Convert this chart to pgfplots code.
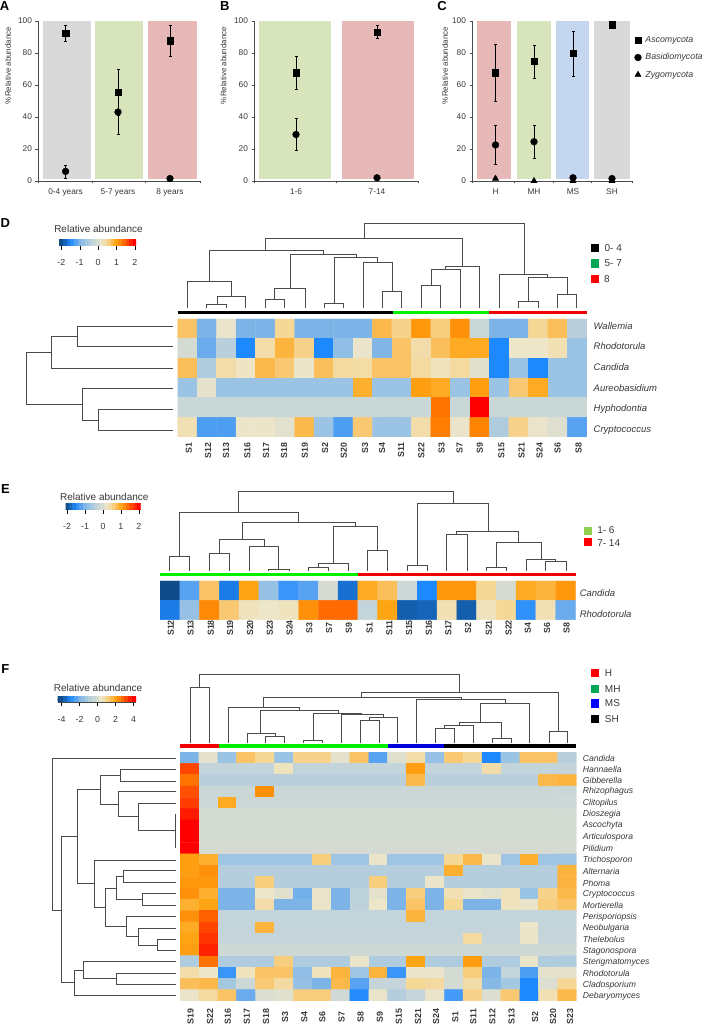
\documentclass[border=0pt]{standalone}
\usepackage{pgfplots}
\pgfplotsset{compat=1.18}
\usepackage{fontspec}
\setmainfont{Liberation Sans}
\definecolor{bgray}{RGB}{217,217,217}
\definecolor{bgreen}{RGB}{216,228,188}
\definecolor{bred}{RGB}{230,184,183}
\definecolor{bblue}{RGB}{197,215,238}
\definecolor{txt}{RGB}{55,55,55}
\definecolor{dend}{RGB}{75,75,75}
\definecolor{lgreen}{RGB}{0,166,81}
\definecolor{egreen}{RGB}{146,208,80}
\pgfplotsset{
 colormap={hm}{rgb255(0cm)=(15,76,138) rgb255(0.5cm)=(30,136,255) rgb255(1cm)=(125,180,232) rgb255(1.4cm)=(165,200,225) rgb255(1.7cm)=(195,212,218) rgb255(2cm)=(214,220,210) rgb255(2.25cm)=(238,230,200) rgb255(2.5cm)=(245,215,150) rgb255(2.75cm)=(250,190,90) rgb255(3cm)=(255,165,20) rgb255(3.3cm)=(255,125,0) rgb255(3.6cm)=(255,70,0) rgb255(4cm)=(255,0,0)},
 panel/.style={scale only axis, clip=false, height=160.3pt, ymin=0, ymax=100, ytick={0,20,40,60,80,100},
   axis x line*=bottom, axis y line*=left, axis line style={-,draw=black!70}, tick style={draw=black!70},
   tick align=outside, major tick length=2.5pt, xticklabels={},
   tick label style={font=\fontsize{8.3}{10}\selectfont, text=txt},
   x tick label style={yshift=-1.5pt},
   /pgf/number format/assume math mode=true,
   ylabel={\%Relative abundance}, ylabel style={font=\fontsize{7.9}{9}\selectfont, text=txt, at={(axis description cs:-0.185,0.72)}, anchor=center},
   extra x tick style={tick style={draw=none}},
   anchor=south west},
 band/.style={draw=none, fill=#1, forget plot},
 mk/.style={only marks, black, mark options={solid, fill=black},
   error bars/y dir=both, error bars/y explicit, error bars/error bar style={black, line width=0.5pt}, error bars/error mark options={rotate=90, mark size=1.5pt, black}},
 ov/.style={scale only axis, hide axis, clip=false, width=705pt, xmin=0, xmax=1568, ymin=0, y dir=reverse, anchor=north west, enlargelimits=false, unbounded coords=jump},
 dn/.style={dend, line width=0.95pt, mark=none},
 hmap/.style={scale only axis, hide axis, anchor=north west, y dir=reverse, enlargelimits=false, xmin=-0.5, xmax=20.5, colormap name=hm, point meta min=-2, point meta max=2},
 kaxis/.style={scale only axis, anchor=north west, axis x line*=bottom, axis y line=none, ymin=0, ymax=1, enlargelimits=false, colormap name=hm, point meta min=-2, point meta max=2, xtick={-2,-1,0,1,2}, tick align=outside, major tick length=4.5pt, tick style={draw=black}, axis line style={-,draw=black!70}, tick label style={font=\fontsize{8.8}{10}\selectfont, text=txt}, xticklabel shift=6pt},
 bar/.style={line width=3.4pt, mark=none, #1}
}
\def\keyc{(-2.4,0)(-2.2,0)(-2,0)(-1.8,0)(-1.6,0)(-1.4,0)(-1.2,0)(-1,0)(-0.8,0)(-0.6,0)(-0.4,0)(-0.2,0)(0,0)(0.2,0)(0.4,0)(0.6,0)(0.8,0)(1,0)(1.2,0)(1.4,0)(1.6,0)(1.8,0)(2,0)(2.2,0)(2.4,0)
(-2.4,1)(-2.2,1)(-2,1)(-1.8,1)(-1.6,1)(-1.4,1)(-1.2,1)(-1,1)(-0.8,1)(-0.6,1)(-0.4,1)(-0.2,1)(0,1)(0.2,1)(0.4,1)(0.6,1)(0.8,1)(1,1)(1.2,1)(1.4,1)(1.6,1)(1.8,1)(2,1)(2.2,1)(2.4,1)}
\newcommand\keyplot{\addplot[matrix plot*, draw=none, mesh/cols=25, point meta=x] coordinates {\keyc};}
\newcommand\rl[3]{\node[anchor=west, font=\fontsize{#3}{10}\selectfont\itshape, text=txt, inner sep=0pt] at (axis cs:#1){#2};}
\newcommand\tl[3]{\node[anchor=center, font=\fontsize{#3}{10}\selectfont, text=txt, inner sep=0pt] at (axis cs:#1){#2};}
\newcommand\pl[2]{\node[anchor=center, font=\fontsize{13}{14}\selectfont\bfseries, inner sep=0pt] at (axis cs:#1){#2};}
\newcommand\cld[2]{\node[rotate=90, anchor=east, font=\fontsize{8.8}{9}\selectfont\bfseries, text=txt, inner sep=0pt] at (axis cs:#1,727){#2};}
\newcommand\cle[2]{\node[rotate=90, anchor=center, font=\fontsize{8.8}{9}\selectfont\bfseries, text=txt, inner sep=0pt] at (axis cs:#1,474){#2};}
\newcommand\clf[2]{\node[rotate=90, anchor=center, font=\fontsize{8.8}{9}\selectfont\bfseries, text=txt, inner sep=0pt] at (axis cs:#1,1130){#2};}
\begin{document}
\begin{tikzpicture}[x=1pt,y=1pt]
\path[use as bounding box] (0,0) rectangle (705pt,1026pt);
% ---------- Panel A
\begin{axis}[panel, at={(38pt,845pt)}, width=162pt, xmin=38, xmax=200, xtick={38,92,145,200},
  extra x ticks={65.6,118,170}, extra x tick labels={0-4 years,5-7 years,8 years}]
\addplot[band=bgray] coordinates {(43,1)(91,1)(91,100)(43,100)} --cycle;
\addplot[band=bgreen] coordinates {(95,1)(143,1)(143,100)(95,100)} --cycle;
\addplot[band=bred] coordinates {(148,1)(196.5,1)(196.5,100)(148,100)} --cycle;
\addplot[mk, mark=square*, mark size=3.1pt] table[x=x,y=y,y error=e] {
x y e
65.6 92 5
118 55.5 14.5
170 87.5 9.5
};
\addplot[mk, mark=*, mark size=3.4pt] table[x=x,y=y,y error=e] {
x y e
65.6 6 4
118 43 13.5
170 1.5 0
};
\end{axis}
% ---------- Panel B
\begin{axis}[panel, at={(254pt,845pt)}, width=164pt, xmin=254, xmax=418, xtick={254,336,418},
  extra x ticks={296,377}, extra x tick labels={1-6,7-14}]
\addplot[band=bgreen] coordinates {(258.5,1)(330.5,1)(330.5,100)(258.5,100)} --cycle;
\addplot[band=bred] coordinates {(342,1)(413.7,1)(413.7,100)(342,100)} --cycle;
\addplot[mk, mark=square*, mark size=3.1pt] table[x=x,y=y,y error=e] {
x y e
296 67.5 10.5
377 93 4
};
\addplot[mk, mark=*, mark size=3.4pt] table[x=x,y=y,y error=e] {
x y e
296 29 10
377 2 0
};
\end{axis}
% ---------- Panel C
\begin{axis}[panel, at={(472pt,845pt)}, width=160pt, xmin=472, xmax=632, xtick={472,514,553,591,632},
  extra x ticks={495.5,534,573,612}, extra x tick labels={H,MH,MS,SH},
  legend style={at={(1.015,0.915)}, anchor=north west, draw=none, fill=none, font=\fontsize{8.8}{10}\selectfont\itshape, text=txt, row sep=5.5pt, inner sep=0pt, column sep=2pt},
  legend cell align=left, ylabel style={at={(axis description cs:-0.169,0.72)}}]
\addplot[band=bred] coordinates {(476.6,1)(511,1)(511,100)(476.6,100)} --cycle;
\addplot[band=bgreen] coordinates {(517,1)(551,1)(551,100)(517,100)} --cycle;
\addplot[band=bblue] coordinates {(556,1)(589,1)(589,100)(556,100)} --cycle;
\addplot[band=bgray] coordinates {(594,1)(629.5,1)(629.5,100)(594,100)} --cycle;
\addplot[mk, mark=square*, mark size=3.1pt] table[x=x,y=y,y error=e] {
x y e
495.5 67.5 18
534 74.5 10.5
573 79.5 14
612 97.5 0
};
\addplot[mk, mark=*, mark size=3.4pt] table[x=x,y=y,y error=e] {
x y e
495.5 22.5 12
534 24.5 10.5
573 2 0
612 1.5 0
};
\addplot[mk, mark=triangle*, mark size=3.6pt] table[x=x,y=y,y error=e] {
x y e
495.5 1.5 0
534 0 0
573 0 0
612 0 0
};
\legend{Ascomycota,Basidiomycota,Zygomycota}
\end{axis}
% ---------- Heatmap D
\begin{axis}[hmap, at={(177.6pt,707pt)}, width=409.2pt, height=118pt, ymin=-0.5, ymax=5.5]
\addplot[matrix plot*, draw=none, mesh/cols=21, point meta=explicit] table[x expr={mod(\coordindex,21)}, y expr={floor((\coordindex+0.5)/21)}, meta=v] {
v
0.7
-1
0.2
-1
-1
0.5
-1
-1
-1
-1
0.8
0.55
1.1
0.6
1.15
-0.2
-1
-1
0.5
0.75
-0.4
-0.05
-1.1
-0.4
-1.5
0.4
0.85
0.55
-1.5
-0.8
0.2
-0.95
0.7
0.4
0.75
0.95
0.95
-1.5
0.25
0.25
0.35
-0.7
0.75
-0.5
0.4
0.27
0.8
0.65
0.22
0.75
0.45
0.42
0.7
0.7
0.45
0.3
0.45
0.1
-1.5
-0.7
-1.5
-0.7
-0.7
-0.7
0.15
-0.7
-0.7
-0.7
-0.7
-0.7
-0.7
-0.7
0.9
-0.7
-0.7
1.05
0.95
-0.7
1.05
-0.7
0.65
0.95
-0.7
-0.7
-0.2
-0.2
-0.2
-0.2
-0.2
-0.2
-0.2
-0.2
-0.2
-0.2
-0.2
-0.2
-0.2
1.35
-0.2
2
-0.2
-0.2
-0.2
-0.2
-0.2
0.35
-1.25
-1.25
0.22
0.22
0.12
0.8
-0.7
-1.25
0.65
-0.7
-0.7
0.4
1.3
0.2
1.25
-0.5
0.55
0.2
0.08
-1.2
};
\end{axis}
% ---------- Heatmap E
\begin{axis}[hmap, at={(160pt,445pt)}, width=415.5pt, height=38.7pt, ymin=-0.5, ymax=1.5]
\addplot[matrix plot*, draw=none, mesh/cols=21, point meta=explicit] table[x expr={mod(\coordindex,21)}, y expr={floor((\coordindex+0.5)/21)}, meta=v] {
v
-2
-1.2
0.7
-1.6
1
-0.75
-1.35
-1.2
0
-1.7
0.95
0.75
-0.15
-1.5
1.1
1.1
0.5
0
0.95
0.85
1.1
-1.6
-0.75
1.2
0.65
0.3
0.25
0.3
1.15
1.4
1.4
-0.3
1
-1.85
-1.8
0.35
-1.85
0.3
0.5
-1.4
0.35
-1.1
};
\end{axis}
% ---------- Heatmap F
\begin{axis}[hmap, at={(180pt,274pt)}, width=396.4pt, height=249pt, ymin=-0.5, ymax=21.5]
\addplot[matrix plot*, draw=none, mesh/cols=21, point meta=explicit] table[x expr={mod(\coordindex,21)}, y expr={floor((\coordindex+0.5)/21)}, meta=v] {
v
-1
0.15
-0.7
0.7
0.5
-0.7
0.55
0.55
0.15
0.7
-1.2
0.1
0.4
-0.75
0.65
0.5
-1.5
-0.7
0.7
0.7
-0.4
1.6
-0.3
-0.3
-0.3
-0.3
0.3
-0.3
-0.3
-0.3
-0.3
-0.3
-0.3
1.05
-0.3
-0.3
-0.3
0.4
-0.3
-0.3
-0.3
-0.3
1.35
-0.4
-0.4
-0.4
-0.4
-0.4
-0.4
-0.4
-0.4
-0.4
-0.4
-0.4
0.8
-0.4
-0.4
-0.4
-0.4
-0.4
-0.4
0.8
0.85
1.55
-0.2
-0.2
-0.2
1.15
-0.2
-0.2
-0.2
-0.2
-0.2
-0.2
-0.2
-0.2
-0.2
-0.2
-0.2
-0.2
-0.2
-0.2
-0.2
-0.2
1.65
-0.15
0.95
-0.15
-0.15
-0.15
-0.15
-0.15
-0.15
-0.15
-0.15
-0.15
-0.15
-0.15
-0.15
-0.15
-0.15
-0.15
-0.15
-0.15
-0.15
1.85
-0.05
-0.05
-0.05
-0.05
-0.05
-0.05
-0.05
-0.05
-0.05
-0.05
-0.05
-0.05
-0.05
-0.05
-0.05
-0.05
-0.05
-0.05
-0.05
-0.05
2
-0.03
-0.03
-0.03
-0.03
-0.03
-0.03
-0.03
-0.03
-0.03
-0.03
-0.03
-0.03
-0.03
-0.03
-0.03
-0.03
-0.03
-0.03
-0.03
-0.03
2
-0.03
-0.03
-0.03
-0.03
-0.03
-0.03
-0.03
-0.03
-0.03
-0.03
-0.03
-0.03
-0.03
-0.03
-0.03
-0.03
-0.03
-0.03
-0.03
-0.03
2
-0.02
-0.02
-0.02
-0.02
-0.02
-0.02
-0.02
-0.02
-0.02
-0.02
-0.02
-0.02
-0.02
-0.02
-0.02
-0.02
-0.02
-0.02
-0.02
-0.02
1.05
0.9
-0.65
-0.65
-0.65
-0.65
-0.65
0.6
-0.65
-0.65
0.2
-0.65
-0.65
-0.65
0.5
0.8
0.2
-0.65
0.9
-0.65
-0.65
1.05
1.15
-0.45
-0.45
-0.45
-0.45
-0.45
-0.45
-0.45
-0.45
-0.45
-0.45
-0.45
-0.45
0.9
-0.45
-0.45
-0.45
-0.45
-0.45
0.85
1.1
1.1
-0.45
-0.45
0.6
-0.45
-0.45
-0.45
-0.45
-0.45
0.6
-0.45
-0.45
0.2
-0.45
-0.45
-0.45
-0.45
-0.45
-0.45
0.85
1.15
0.9
-1
-1
0.25
0.1
-1.05
0.2
-1
-0.35
0.15
-1
0.6
-1
0.35
0.2
0.12
0.3
-0.7
0.55
0.8
0.9
1
-1
-1
0.4
-1
-1
0.2
-1
-0.35
0.25
-1
0.7
-1
0.5
-1
-1
0.3
0.2
0.6
0.7
1.15
1.45
-0.3
-0.3
-0.3
-0.3
-0.3
-0.3
-0.3
-0.3
-0.3
-0.3
0.85
-0.3
-0.3
-0.3
-0.3
-0.3
-0.3
-0.3
-0.3
0.95
1.6
-0.3
-0.3
0.85
-0.3
-0.3
-0.3
-0.3
-0.3
-0.3
-0.3
-0.3
-0.3
-0.3
-0.3
-0.3
-0.3
0.22
-0.3
-0.3
1
1.7
-0.25
-0.25
-0.25
-0.25
-0.25
-0.25
-0.25
-0.25
-0.25
-0.25
-0.25
-0.25
-0.25
0.45
-0.25
-0.25
0.22
-0.25
-0.25
1.05
1.8
-0.12
-0.12
-0.12
-0.12
-0.12
-0.12
-0.12
-0.12
-0.12
-0.12
-0.12
-0.12
-0.12
-0.12
-0.12
-0.12
-0.12
-0.12
-0.12
-0.5
1.35
-0.5
-0.5
-0.5
0.6
-0.5
-0.5
-0.5
0.2
-0.5
-0.5
1
-0.5
-0.5
1.05
-0.5
-0.5
0.2
-0.5
-0.5
0.4
0.25
-1.35
0.3
0.7
0.7
-0.8
0.3
0.85
-0.65
0.85
-1.35
0.2
0.2
-0.05
0.6
-1
-0.3
-1.25
0.15
0.15
0.75
0.8
-0.6
-0.15
0.65
0.45
-0.75
-1
0.8
-1.2
-0.25
-0.25
0.5
0.45
-0.05
0.4
-0.9
-0.6
-1.5
0.05
0.5
0.2
0.45
0.7
-1.1
0.05
0.1
0.6
0.6
-0.1
-1.45
0.2
-0.45
-0.25
0.2
-1.3
0.55
0.05
0.65
-1.5
0.35
0.8
};
\end{axis}
% ---------- Keys
\begin{axis}[kaxis, at={(59.4pt,786pt)}, width=76.8pt, height=5.3pt, xmin=-2.1, xmax=2.07, xticklabels={-2,-1,0,1,2}]
\keyplot
\end{axis}
\begin{axis}[kaxis, at={(65.6pt,522.3pt)}, width=75.1pt, height=5.6pt, xmin=-2.08, xmax=2.1, xticklabels={-2,-1,0,1,2}]
\keyplot
\end{axis}
\begin{axis}[kaxis, at={(57.6pt,329.3pt)}, width=78.6pt, height=5.3pt, xmin=-2.22, xmax=2.15, xticklabels={-4,-2,0,2,4}]
\keyplot
\end{axis}
% ---------- Overlay D
\begin{axis}[ov, at={(0pt,826pt)}, height=270pt, ymax=810]
\addplot[dn] coordinates {
(460,325)(460,314)(503,314)(503,325)(nan,nan)
(483,314)(483,290)(547,290)(547,325)(nan,nan)
(417,325)(417,243)(515,243)(515,290)(nan,nan)
(590,325)(590,297)(633,297)(633,325)(nan,nan)
(611,297)(611,264)(680,264)(680,325)(nan,nan)
(722,325)(722,310)(763,310)(763,325)(nan,nan)
(851,325)(851,274)(894,274)(894,325)(nan,nan)
(808,325)(808,187)(873,187)(873,274)(nan,nan)
(743,310)(743,173)(840,173)(840,187)(nan,nan)
(645,264)(645,162)(793,162)(793,173)(nan,nan)
(467,243)(467,151)(719,151)(719,162)(nan,nan)
(937,325)(937,257)(980,257)(980,325)(nan,nan)
(959,257)(959,209)(1024,209)(1024,325)(nan,nan)
(991,209)(991,199)(1067,199)(1067,325)(nan,nan)
(590,151)(590,116)(1028,116)(1028,199)(nan,nan)
(1153,325)(1153,305)(1197,305)(1197,325)(nan,nan)
(1240,325)(1240,284)(1283,284)(1283,325)(nan,nan)
(1176,305)(1176,231)(1262,231)(1262,284)(nan,nan)
(1111,325)(1111,224)(1218,224)(1218,231)(nan,nan)
(811,116)(811,70)(1166,70)(1166,224)(nan,nan)
(385,378)(172,378)(172,440)(385,440)(nan,nan)
(172,408)(115,408)(115,505)(385,505)(nan,nan)
(385,628)(219,628)(219,690)(385,690)(nan,nan)
(385,566)(184,566)(184,660)(219,660)(nan,nan)
(115,456)(59,456)(59,612)(184,612)
};
\addplot[bar=black] coordinates {(395,337)(873,337)};
\addplot[bar={color={rgb,255:red,0;green,240;blue,0}}] coordinates {(873,337)(1088,337)};
\addplot[bar={color={rgb,255:red,240;green,0;blue,0}}] coordinates {(1088,337)(1305,337)};
\addplot[only marks, mark=square*, mark size=3.8pt, black] coordinates {(1323,143)};
\addplot[only marks, mark=square*, mark size=3.8pt, lgreen] coordinates {(1323,189)};
\addplot[only marks, mark=square*, mark size=3.8pt, red] coordinates {(1323,236)};
\tl{1364,143}{0- 4}{10}
\tl{1364,189}{5- 7}{10}
\node[anchor=center, font=\fontsize{10}{10}\selectfont, text=txt, inner sep=0pt] at (axis cs:1350,236){8};
\tl{219,87}{Relative abundance}{10}
\rl{1320,378}{Wallemia}{9.5}
\rl{1320,437}{Rhodotorula}{9.5}
\rl{1320,500}{Candida}{9.5}
\rl{1320,563}{Aureobasidium}{9.5}
\rl{1320,627}{Hyphodontia}{9.5}
\rl{1320,690}{Cryptococcus}{9.5}
\cld{420}{S1}\cld{463}{S12}\cld{503}{S13}\cld{550}{S16}\cld{592}{S17}\cld{632}{S18}\cld{678}{S19}\cld{723}{S2}\cld{765}{S20}\cld{812}{S3}\cld{850}{S4}\cld{892}{S11}\cld{937}{S22}\cld{982}{S3}\cld{1022}{S7}\cld{1067}{S9}\cld{1115}{S15}\cld{1160}{S21}\cld{1200}{S24}\cld{1240}{S6}\cld{1287}{S8}
\pl{12,68}{D}
\end{axis}
% ---------- Overlay E
\begin{axis}[ov, at={(0pt,556pt)}, height=170pt, ymax=510]
\addplot[dn] coordinates {
(378,303)(378,260)(422,260)(422,303)(nan,nan)
(466,303)(466,249)(511,249)(511,303)(nan,nan)
(598,303)(598,299)(643,299)(643,303)(nan,nan)
(554,303)(554,229)(620,229)(620,299)(nan,nan)
(488,249)(488,208)(588,208)(588,229)(nan,nan)
(686,303)(686,291)(730,291)(730,303)(nan,nan)
(708,291)(708,280)(775,280)(775,303)(nan,nan)
(818,303)(818,241)(862,241)(862,303)(nan,nan)
(741,280)(741,168)(840,168)(840,241)(nan,nan)
(539,208)(539,157)(790,157)(790,168)(nan,nan)
(399,260)(399,128)(664,128)(664,157)(nan,nan)
(906,303)(906,287)(950,287)(950,303)(nan,nan)
(994,303)(994,192)(1039,192)(1039,303)(nan,nan)
(1082,303)(1082,293)(1127,293)(1127,303)(nan,nan)
(1214,303)(1214,273)(1259,273)(1259,303)(nan,nan)
(1171,303)(1171,267)(1236,267)(1236,273)(nan,nan)
(1104,293)(1104,218)(1204,218)(1204,267)(nan,nan)
(1016,192)(1016,185)(1154,185)(1154,218)(nan,nan)
(929,287)(929,101)(1087,101)(1087,185)(nan,nan)
(531,128)(531,64)(1009,64)(1009,101)
};
\addplot[bar={color={rgb,255:red,0;green,240;blue,0}}] coordinates {(356,314)(796,314)};
\addplot[bar={color={rgb,255:red,240;green,0;blue,0}}] coordinates {(796,314)(1280,314)};
\addplot[only marks, mark=square*, mark size=3.5pt, egreen] coordinates {(1306,181)};
\addplot[only marks, mark=square*, mark size=3.5pt, red] coordinates {(1306,216)};
\node[anchor=west, font=\fontsize{10}{10}\selectfont, text=txt, inner sep=0pt] at (axis cs:1328,181){1- 6};
\node[anchor=west, font=\fontsize{10}{10}\selectfont, text=txt, inner sep=0pt] at (axis cs:1328,218){7- 14};
\tl{232,82}{Relative abundance}{10}
\rl{1289,368}{Candida}{9.5}
\rl{1289,431}{Rhodotorula}{9.5}
\cle{380}{S12}\cle{424}{S13}\cle{469}{S18}\cle{512}{S19}\cle{556}{S20}\cle{600}{S23}\cle{644}{S24}\cle{688}{S3}\cle{732}{S7}\cle{776}{S9}\cle{822}{S1}\cle{866}{S11}\cle{910}{S15}\cle{954}{S16}\cle{997}{S17}\cle{1041}{S2}\cle{1087}{S21}\cle{1131}{S22}\cle{1174}{S4}\cle{1217}{S6}\cle{1260}{S8}
\pl{12,58}{E}
\end{axis}
% ---------- Overlay F
\begin{axis}[ov, at={(0pt,386pt)}, height=386pt, ymax=1158]
\addplot[dn] coordinates {
(424,309)(424,142)(465,142)(465,309)(nan,nan)
(591,309)(591,288)(632,288)(632,309)(nan,nan)
(550,309)(550,281)(612,281)(612,288)(nan,nan)
(676,309)(676,301)(717,301)(717,309)(nan,nan)
(802,309)(802,241)(844,241)(844,309)(nan,nan)
(822,241)(822,232)(885,232)(885,309)(nan,nan)
(759,309)(759,224)(853,224)(853,232)(nan,nan)
(697,301)(697,219)(805,219)(805,224)(nan,nan)
(580,281)(580,211)(752,211)(752,219)(nan,nan)
(508,309)(508,202)(666,202)(666,211)(nan,nan)
(968,309)(968,265)(1011,265)(1011,309)(nan,nan)
(989,265)(989,257)(1052,257)(1052,309)(nan,nan)
(1095,309)(1095,296)(1137,296)(1137,309)(nan,nan)
(1022,257)(1022,248)(1116,248)(1116,296)(nan,nan)
(1069,248)(1069,190)(1178,190)(1178,309)(nan,nan)
(926,309)(926,179)(1125,179)(1125,190)(nan,nan)
(1221,309)(1221,274)(1263,274)(1263,309)(nan,nan)
(587,202)(587,171)(1026,171)(1026,179)(nan,nan)
(805,171)(805,157)(1242,157)(1242,274)(nan,nan)
(444,142)(444,102)(1022,102)(1022,157)(nan,nan)
(392,388)(268,388)(268,423)(392,423)(nan,nan)
(391,523)(391,625)(nan,nan)
(392,489)(308,489)(308,572)(391,572)(nan,nan)
(392,455)(263,455)(263,530)(308,530)(nan,nan)
(268,405)(224,405)(224,493)(263,493)(nan,nan)
(392,691)(275,691)(275,727)(392,727)(nan,nan)
(392,761)(317,761)(317,796)(392,796)(nan,nan)
(275,709)(260,709)(260,778)(317,778)(nan,nan)
(392,898)(350,898)(350,931)(392,931)(nan,nan)
(392,864)(307,864)(307,915)(350,915)(nan,nan)
(392,830)(282,830)(282,889)(307,889)(nan,nan)
(260,744)(234,744)(234,860)(282,860)(nan,nan)
(392,661)(210,661)(210,802)(234,802)(nan,nan)
(224,449)(172,449)(172,731)(210,731)(nan,nan)
(392,1000)(258,1000)(258,1033)(392,1033)(nan,nan)
(392,965)(186,965)(186,1016)(258,1016)(nan,nan)
(186,990)(166,990)(166,1067)(392,1067)(nan,nan)
(172,590)(137,590)(137,1028)(166,1028)(nan,nan)
(392,354)(117,354)(117,810)(137,810)
};
\addplot[bar={color={rgb,255:red,240;green,0;blue,0}}] coordinates {(400,318)(486,318)};
\addplot[bar={color={rgb,255:red,0;green,240;blue,0}}] coordinates {(486,318)(863,318)};
\addplot[bar={color={rgb,255:red,0;green,0;blue,220}}] coordinates {(863,318)(988,318)};
\addplot[bar=black] coordinates {(988,318)(1282,318)};
\addplot[only marks, mark=square*, mark size=3.8pt, red] coordinates {(1323,98)};
\addplot[only marks, mark=square*, mark size=3.8pt, lgreen] coordinates {(1323,146)};
\addplot[only marks, mark=square*, mark size=3.8pt, blue] coordinates {(1323,190)};
\addplot[only marks, mark=square*, mark size=3.8pt, black] coordinates {(1323,236)};
\node[anchor=west, font=\fontsize{10}{10}\selectfont, text=txt, inner sep=0pt] at (axis cs:1345,98){H};
\node[anchor=west, font=\fontsize{10}{10}\selectfont, text=txt, inner sep=0pt] at (axis cs:1345,146){MH};
\node[anchor=west, font=\fontsize{10}{10}\selectfont, text=txt, inner sep=0pt] at (axis cs:1345,190){MS};
\node[anchor=west, font=\fontsize{10}{10}\selectfont, text=txt, inner sep=0pt] at (axis cs:1345,236){SH};
\tl{218,143}{Relative abundance}{10}
\rl{1296,354}{Candida}{8.6}
\rl{1296,388}{Hannaella}{8.6}
\rl{1296,422}{Gibberella}{8.6}
\rl{1296,455}{Rhizophagus}{8.6}
\rl{1296,490}{Clitopilus}{8.6}
\rl{1296,523}{Dioszegia}{8.6}
\rl{1296,557}{Ascochyta}{8.6}
\rl{1296,592}{Articulospora}{8.6}
\rl{1296,626}{Pilidium}{8.6}
\rl{1296,661}{Trichosporon}{8.6}
\rl{1296,694}{Alternaria}{8.6}
\rl{1296,729}{Phoma}{8.6}
\rl{1296,764}{Cryptococcus}{8.6}
\rl{1296,797}{Mortierella}{8.6}
\rl{1296,831}{Perisporiopsis}{8.6}
\rl{1296,865}{Neobulgaria}{8.6}
\rl{1296,899}{Thelebolus}{8.6}
\rl{1296,934}{Stagonospora}{8.6}
\rl{1296,967}{Sterigmatomyces}{8.6}
\rl{1296,1001}{Rhodotorula}{8.6}
\rl{1296,1035}{Cladosporium}{8.6}
\rl{1296,1069}{Debaryomyces}{8.6}
\clf{424}{S19}\clf{467}{S22}\clf{507}{S16}\clf{549}{S17}\clf{592}{S18}\clf{634}{S3}\clf{677}{S4}\clf{717}{S6}\clf{760}{S7}\clf{802}{S8}\clf{845}{S9}\clf{887}{S15}\clf{930}{S21}\clf{970}{S24}\clf{1013}{S1}\clf{1053}{S11}\clf{1095}{S12}\clf{1138}{S13}\clf{1190}{S2}\clf{1230}{S20}\clf{1268}{S23}
\pl{12,88}{F}
\end{axis}
% ---------- Top labels
\begin{axis}[ov, at={(0pt,1026pt)}, height=200pt, ymax=600]
\pl{10,18}{A}
\pl{500,18}{B}
\pl{983,18}{C}
\end{axis}
\end{tikzpicture}
\end{document}
